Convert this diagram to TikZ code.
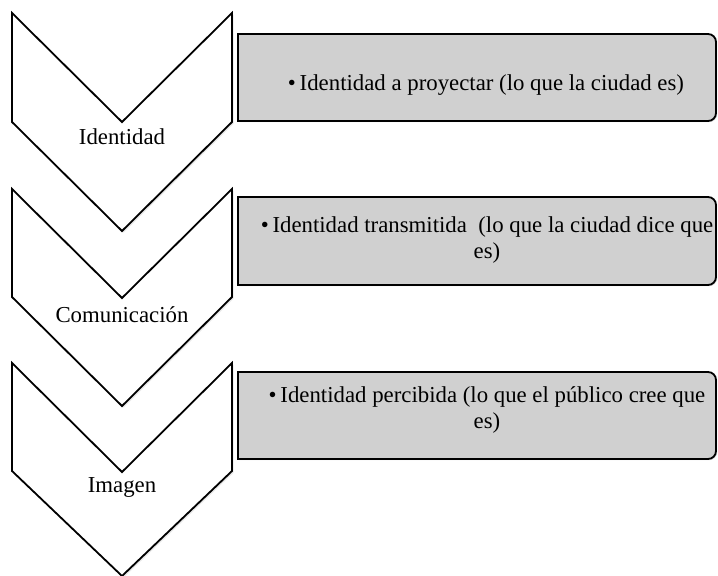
\documentclass[tikz,border=0pt]{standalone}
\usepackage{fontspec}
\setmainfont{Liberation Serif}
\usetikzlibrary{shadows}
\definecolor{boxgray}{RGB}{208,208,208}
\begin{document}
\begin{tikzpicture}[x=0.5pt, y=-0.5pt,
    chevron/.style={draw=black, line width=0.9pt, fill=white, line join=miter,
      drop shadow={opacity=0.18, shadow xshift=0.8pt, shadow yshift=-0.8pt}},
    infobox/.style={draw=black, line width=0.9pt, fill=boxgray,
      drop shadow={opacity=0.25, shadow xshift=0.6pt, shadow yshift=-0.6pt}},
    steplabel/.style={font=\fontsize{11.4}{13}\selectfont},
    boxtext/.style={font=\fontsize{11.4}{13}\selectfont, align=center}]
  \useasboundingbox (0,0) rectangle (718,576);
  % chevrons
  \draw[chevron] (12,13) -- (122,122) -- (232,13) -- (232,122) -- (122,231) -- (12,122) -- cycle;
  \draw[chevron] (12,189) -- (122,298) -- (232,189) -- (232,297) -- (122,406) -- (12,297) -- cycle;
  \draw[chevron] (12,363) -- (122,472) -- (232,363) -- (232,471) -- (122,576) -- (12,471) -- cycle;
  \node[steplabel] (identidad) at (122,137) {Identidad};
  \node[steplabel] (comunicacion) at (122,315) {Comunicación};
  \node[steplabel] (imagen) at (122,487) {Imagen};
  % boxes
  \draw[infobox] (238,121) -- (238,34) [rounded corners=4pt] -- (716,34) -- (716,121) [sharp corners] -- cycle;
  \draw[infobox] (238,285) -- (238,197) [rounded corners=4pt] -- (716,197) -- (716,285) [sharp corners] -- cycle;
  \draw[infobox] (238,459) -- (238,372) [rounded corners=4pt] -- (716,372) -- (716,459) [sharp corners] -- cycle;
  \node[boxtext] (proyectar) at (486,85) {\textbullet\,Identidad a proyectar (lo que la ciudad es)};
  \node[boxtext] (transmitida) at (487,240) {\textbullet\,Identidad transmitida\ \ (lo que la ciudad dice que\\es)};
  \node[boxtext] (percibida) at (487,410) {\textbullet\,Identidad percibida (lo que el público cree que\\es)};
\end{tikzpicture}
\end{document}
